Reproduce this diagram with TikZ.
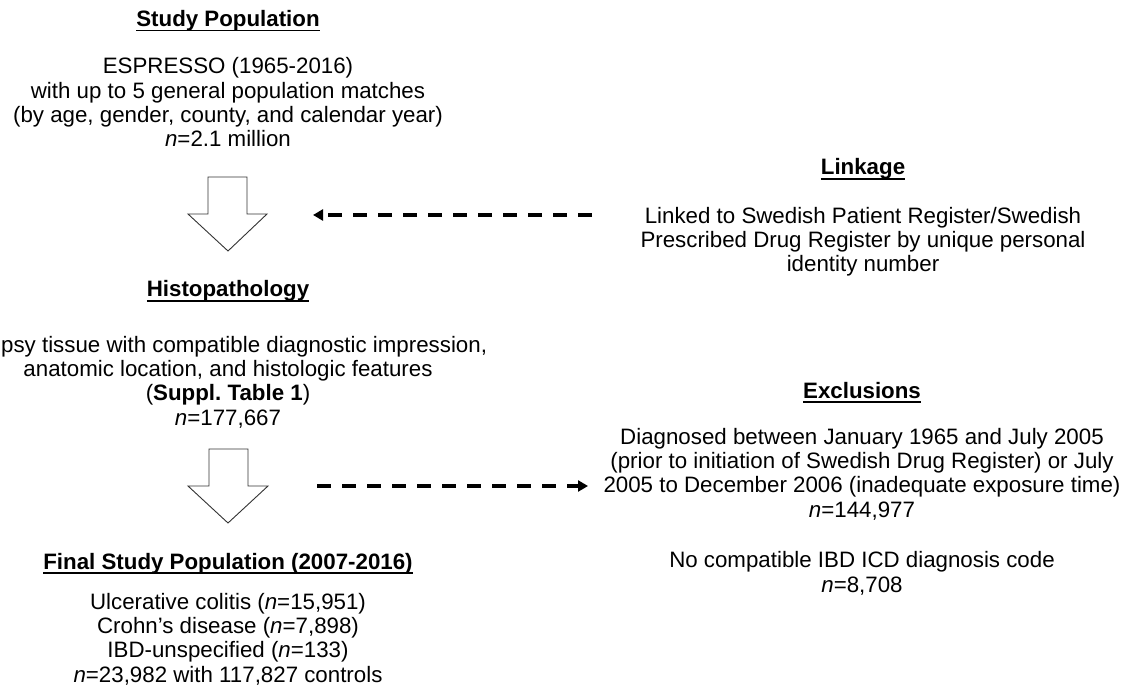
\documentclass[tikz,border=0pt]{standalone}
\usepackage{fontspec}
\setmainfont{Liberation Sans}
\usetikzlibrary{arrows.meta}
\frenchspacing
\newcommand\ulbold[1]{\setbox0\hbox{\bfseries #1}\rlap{\rule[-4.6pt]{\wd0}{1.4pt}}\box0}
\tikzset{
  txt/.style={align=center,anchor=base,inner sep=0pt,font=\fontsize{22.3}{24.2}\selectfont},
  ttl/.style={anchor=base,inner sep=0pt,font=\fontsize{22.3}{24.2}\selectfont},
  blockarrow/.style={draw=black!80,line width=0.9pt,fill=white,line join=miter},
  dasharrow/.style={line width=3.3pt,dash pattern=on 14pt off 11pt,-{Triangle[length=10pt,width=11pt]}}
}
\begin{document}
\begin{tikzpicture}[x=1pt,y=-1pt]
\useasboundingbox (0,0) rectangle (1137,700);
% left column
\node[ttl] (sptitle) at (228,26.5) {\ulbold{Study Population}};
\node[txt] (sptext) at (228,146.5) {ESPRESSO (1965-2016)\\with up to 5 general population matches\\(by age, gender, county, and calendar year)\\\textit{n}=2.1 million};
\node[ttl] (histtitle) at (228,297) {\ulbold{Histopathology}};
\node[txt] (histtext) at (228,425) {\hphantom{Bio}psy tissue with compatible diagnostic impression,\\anatomic location, and histologic features\\(\textbf{Suppl. Table 1})\\\textit{n}=177,667};
\node[ttl] (finaltitle) at (228,569) {\ulbold{Final Study Population (2007-2016)}};
\node[txt] (finaltext) at (228,682) {Ulcerative colitis (\textit{n}=15,951)\\Crohn’s disease (\textit{n}=7,898)\\IBD-unspecified (\textit{n}=133)\\\textit{n}=23,982 with 117,827 controls};
% right column
\node[ttl] (linktitle) at (863,175) {\ulbold{Linkage}};
\node[txt] (linktext) at (863,272) {Linked to Swedish Patient Register/Swedish\\Prescribed Drug Register by unique personal\\identity number};
\node[ttl] (excltitle) at (862,398) {\ulbold{Exclusions}};
\node[txt] (excltext) at (862,517) {Diagnosed between January 1965 and July 2005\\(prior to initiation of Swedish Drug Register) or July\\2005 to December 2006 (inadequate exposure time)\\\textit{n}=144,977};
\node[txt] (excltextb) at (862,592) {No compatible IBD ICD diagnosis code\\\textit{n}=8,708};
% block arrows
\draw[blockarrow] (208,177) -- (247,177) -- (247,214) -- (267,214) -- (228,251) -- (188,214) -- (208,214) -- cycle;
\draw[blockarrow] (209,449) -- (248,449) -- (248,486) -- (268,486) -- (228,523) -- (188,486) -- (209,486) -- cycle;
% dashed arrows
\coordinate (linkfrom) at (592,215);
\coordinate (linkto) at (313,215);
\coordinate (exclfrom) at (317,486);
\coordinate (exclto) at (588,486);
\draw[dasharrow] (linkfrom) -- (linkto);
\draw[dasharrow] (exclfrom) -- (exclto);
\end{tikzpicture}
\end{document}
